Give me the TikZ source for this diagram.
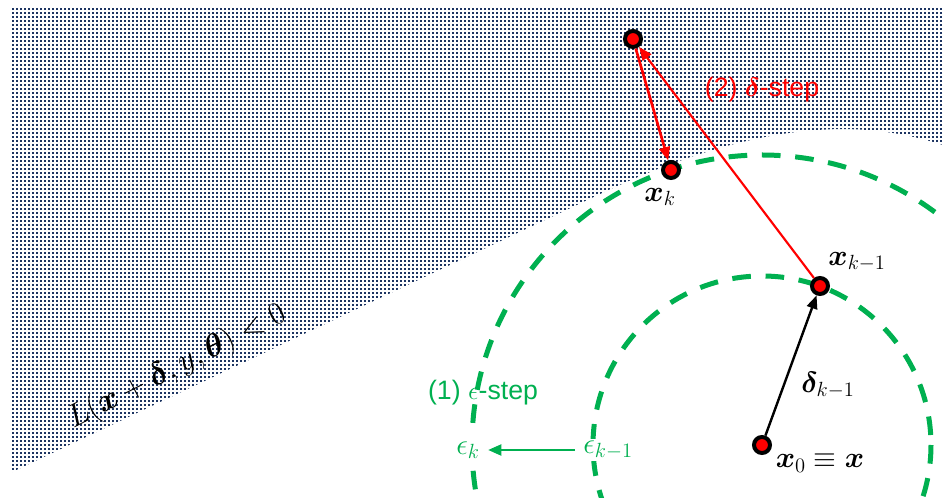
\RequirePackage{fix-cm}
\documentclass[tikz,border=0pt]{standalone}
\usepackage{amsmath, amssymb, bm}
\usepackage{fontspec}
\newfontfamily\arialfont{Liberation Sans}
\usepackage{tikz}
\usetikzlibrary{arrows.meta, positioning, patterns}
\usepackage{xcolor}
\definecolor{dotblue}{RGB}{28,52,98}
\definecolor{stepgreen}{RGB}{0,176,80}
\pgfdeclarepatternformonly{sqdots}{\pgfpointorigin}{\pgfqpoint{3pt}{3pt}}{\pgfqpoint{3pt}{3pt}}{%
  \pgfpathrectangle{\pgfpointorigin}{\pgfqpoint{1.7pt}{1.7pt}}\pgfusepath{fill}}

\begin{document}
\begin{tikzpicture}[
        x=0.75pt, y=-0.75pt,
        iterate/.style={circle, draw=black, fill=red, line width=3pt,
                        minimum size=12pt, inner sep=0pt},
        ball/.style={draw=stepgreen, line width=3.75pt, dash pattern=on 14pt off 11pt},
        redarr/.style={-{Triangle[length=10pt, width=8pt]}, red, line width=2pt},
        blkarr/.style={-{Triangle[length=10pt, width=8pt]}, black, line width=1.8pt},
        grnarr/.style={-{Triangle[length=10pt, width=8pt]}, stepgreen, line width=2.2pt},
        mathlbl/.style={font=\fontsize{22}{26}\selectfont, inner sep=1pt},
        steplbl/.style={font=\arialfont\fontsize{20}{24}\selectfont}
    ]
        \clip (0,0) rectangle (943,498);
        % region where the loss is negative
        \path[pattern=sqdots, pattern color=dotblue]
            (10,7) -- (943,7) -- (943,145) .. controls (880,125) and (780,109) .. (600,194)
            -- (10,473) -- cycle;
        % epsilon balls round x0
        \coordinate (c) at (762,445);
        \draw[ball] (c) circle[radius=169];
        \draw[ball] (c) circle[radius=290];
        % iterates
        \node[iterate] (x0) at (762,445) {};
        \node[iterate] (xprev) at (820,286) {};
        \node[iterate] (xk) at (671,170) {};
        \node[iterate] (xadv) at (633,39) {};
        \draw[redarr, line width=1.6pt] (xprev) -- (xadv);
        \draw[redarr] (xadv) -- (xk);
        \draw[blkarr] (x0) -- (xprev);
        % labels
        \node[mathlbl] (lxk) at (660,197) {$\bm{x}_k$};
        \node[mathlbl] (lxprev) at (857,262) {$\bm{x}_{k-1}$};
        \node[mathlbl] (ldelta) at (828,385) {$\bm{\delta}_{k-1}$};
        \node[mathlbl] (lx0) at (820,463) {$\bm{x}_0 \equiv \bm{x}$};
        \node[mathlbl, text=stepgreen, fill=white, inner sep=3pt] (epsk) at (468,450) {$\epsilon_k$};
        \node[mathlbl, text=stepgreen, fill=white] (epsprev) at (608,450) {$\epsilon_{k-1}$};
        \draw[grnarr, shorten <=5pt, shorten >=3pt] (epsprev) -- (epsk);
        \node[steplbl, text=red] (dstep) at (762,90) {(2) $\bm{\delta}$-step};
        \node[steplbl, text=stepgreen] (estep) at (483,393) {(1) $\epsilon$-step};
        \node[mathlbl, rotate=27, font=\fontsize{24}{28}\selectfont] (loss) at (177,367)
            {$L(\bm{x}+\bm{\delta},y,\bm{\theta})<0$};
    \end{tikzpicture}
\end{document}
